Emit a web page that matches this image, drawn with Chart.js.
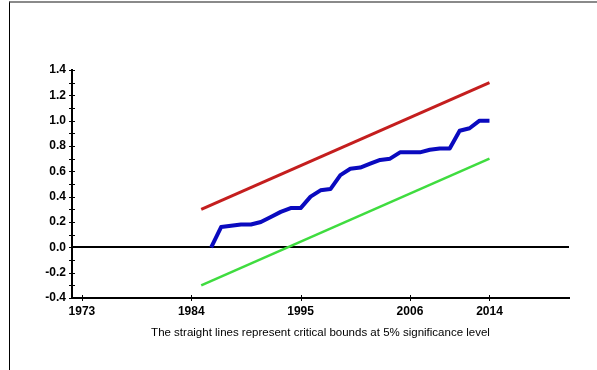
<!DOCTYPE html>
<html>
<head>
<meta charset="utf-8">
<script src="https://cdn.jsdelivr.net/npm/chart.js@4/dist/chart.umd.min.js"></script>
<style>
  html, body { margin: 0; padding: 0; background: #fff; }
  #wrap { position: relative; width: 597px; height: 370px; overflow: hidden; }
  #frame { position: absolute; left: 9px; top: 1px; width: 600px; height: 380px;
           border-top: 2px solid #8a8a8a; border-left: 1px solid #000; box-sizing: border-box; }
  canvas { position: absolute; left: 0; top: 0; }
</style>
</head>
<body>
<div id="wrap">
  <div id="frame"></div>
  <canvas id="c" width="597" height="370"></canvas>
</div>
<script>
// CUSUM of squares with 5% critical bounds
const years = [1986, 1987, 1988, 1989, 1990, 1991, 1992, 1993, 1994, 1995,
               1996, 1997, 1998, 1999, 2000, 2001, 2002, 2003, 2004, 2005,
               2006, 2007, 2008, 2009, 2010, 2011, 2012, 2013, 2014];
const cusumsq = [0.00, 0.16, 0.17, 0.18, 0.18, 0.20, 0.24, 0.28, 0.31, 0.31,
                 0.40, 0.45, 0.46, 0.57, 0.62, 0.63, 0.66, 0.69, 0.70, 0.75,
                 0.75, 0.75, 0.77, 0.78, 0.78, 0.92, 0.94, 1.00, 1.00];
const boundYears = [1985, 2014];
const upperBound = [0.30, 1.30];
const lowerBound = [-0.30, 0.70];
const xTickYears = [1973, 1984, 1995, 2006, 2014];
const yTickValues = [-0.4, -0.2, 0.0, 0.2, 0.4, 0.6, 0.8, 1.0, 1.2, 1.4];
const caption = 'The straight lines represent critical bounds at 5% significance level';

const pts = (xs, ys) => xs.map((x, i) => ({ x: x, y: ys[i] }));

// zero reference line, crossing tick marks and caption
const extras = {
  id: 'extras',
  beforeDatasetsDraw(chart) {
    const { ctx, chartArea: a, scales: { y } } = chart;
    ctx.save();
    ctx.strokeStyle = '#000';
    ctx.lineWidth = 2;
    const y0 = Math.round(y.getPixelForValue(0));
    ctx.beginPath();
    ctx.moveTo(a.left, y0);
    ctx.lineTo(a.right, y0);
    ctx.stroke();
    ctx.restore();
  },
  afterDraw(chart) {
    const { ctx, chartArea: a, scales: { x, y } } = chart;
    ctx.save();
    ctx.strokeStyle = '#000';
    ctx.lineWidth = 1;
    for (let v = -4; v <= 14; v++) {
      const py = Math.round(y.getPixelForValue(v / 10)) + 0.5;
      ctx.beginPath();
      ctx.moveTo(a.left - 3, py);
      ctx.lineTo(a.left + 3, py);
      ctx.stroke();
    }
    xTickYears.forEach(t => {
      const px = Math.round(x.getPixelForValue(t)) + 0.5;
      ctx.beginPath();
      ctx.moveTo(px, a.bottom - 3);
      ctx.lineTo(px, a.bottom + 3);
      ctx.stroke();
    });
    ctx.fillStyle = '#000';
    ctx.font = '11.5px "Liberation Sans", Arial, sans-serif';
    ctx.textAlign = 'center';
    ctx.textBaseline = 'middle';
    ctx.fillText(caption, (a.left + a.right) / 2, a.bottom + 35);
    ctx.restore();
  }
};

new Chart(document.getElementById('c'), {
  type: 'line',
  data: {
    datasets: [
      { data: pts(boundYears, upperBound), borderColor: '#c41e1e', borderWidth: 3,
        pointRadius: 0, tension: 0 },
      { data: pts(years, cusumsq), borderColor: '#0a0abf', borderWidth: 4,
        pointRadius: 0, tension: 0, borderJoinStyle: 'round' },
      { data: pts(boundYears, lowerBound), borderColor: '#3fdc3f', borderWidth: 2.5,
        pointRadius: 0, tension: 0 }
    ]
  },
  options: {
    responsive: false,
    animation: false,
    events: [],
    layout: { padding: { left: 0, right: 28, top: 70, bottom: 0 } },
    plugins: { legend: { display: false }, tooltip: { enabled: false }, title: { display: false } },
    scales: {
      x: {
        type: 'linear', min: 1972, max: 2022,
        afterBuildTicks: s => { s.ticks = xTickYears.map(v => ({ value: v })); },
        afterFit: s => { s.height = 72; },
        border: { display: true, color: '#000', width: 2 },
        grid: { drawOnChartArea: false, drawTicks: false },
        ticks: { color: '#000', padding: 6, maxRotation: 0, autoSkip: false,
                 font: { family: '"Liberation Sans", Arial, sans-serif', size: 12, weight: 'bold' },
                 callback: v => String(v) }
      },
      y: {
        min: -0.4, max: 1.4,
        afterBuildTicks: s => { s.ticks = yTickValues.map(v => ({ value: v })); },
        afterFit: s => { s.width = 72; },
        border: { display: true, color: '#000', width: 2 },
        grid: { drawOnChartArea: false, drawTicks: false },
        ticks: { color: '#000', padding: 6, autoSkip: false,
                 font: { family: '"Liberation Sans", Arial, sans-serif', size: 12, weight: 'bold' },
                 callback: v => v.toFixed(1) }
      }
    }
  },
  plugins: [extras]
});
</script>
</body>
</html>
